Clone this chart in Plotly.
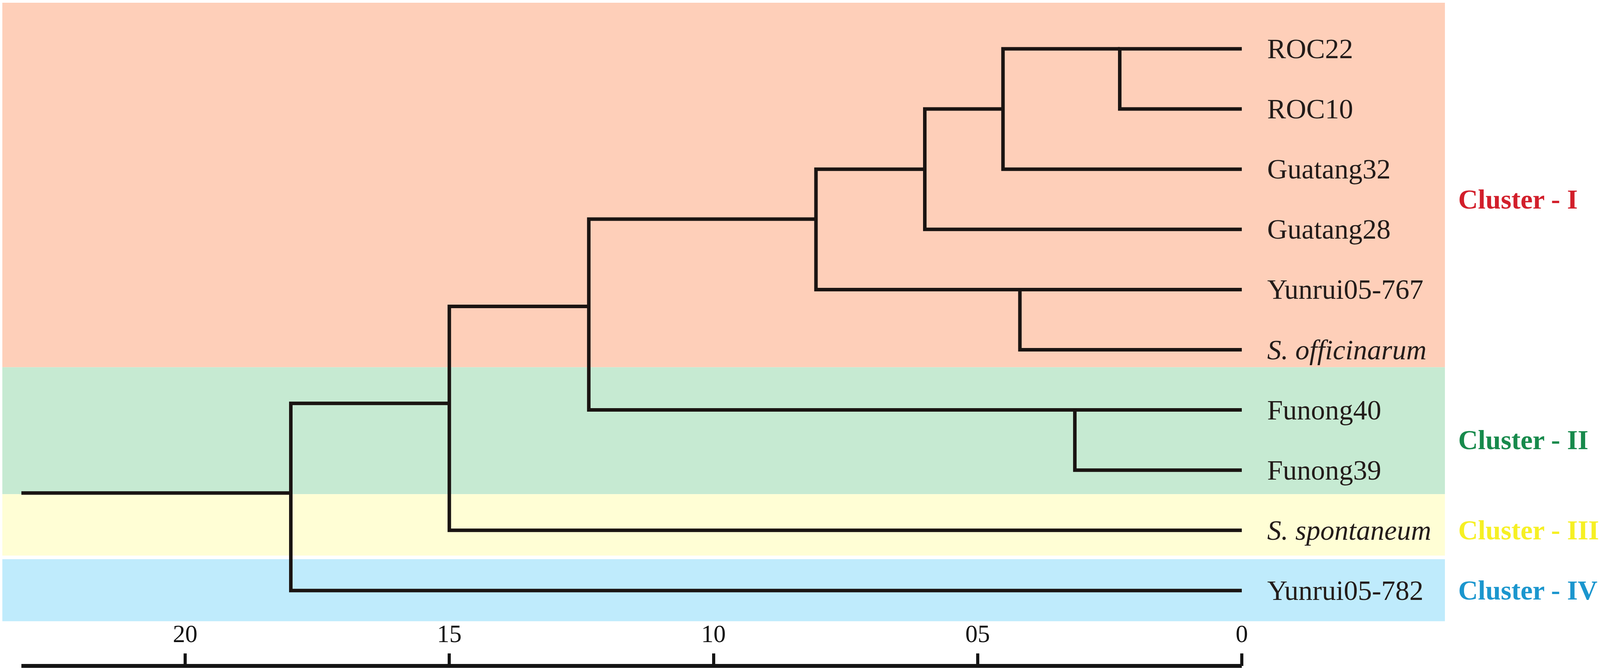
import plotly.graph_objects as go

# ---------------- data ----------------
leaves = ["ROC22", "ROC10", "Guatang32", "Guatang28", "Yunrui05-767",
          "S. officinarum", "Funong40", "Funong39", "S. spontaneum", "Yunrui05-782"]
italic_leaves = ["S. officinarum", "S. spontaneum"]

# merges: (child_a, child_b, height); children are leaf names or merge ids "m1".."m9"
merge_a = ["ROC22", "m1", "m2", "Yunrui05-767", "m3", "Funong40", "m5", "m7", "m8"]
merge_b = ["ROC10", "Guatang32", "Guatang28", "S. officinarum", "m4", "Funong39", "m6",
           "S. spontaneum", "Yunrui05-782"]
merge_h = [2.31, 4.52, 6.00, 4.20, 8.06, 3.16, 12.36, 15.0, 18.0]
# row (in leaf units) at which each merged cluster continues to its parent
merge_row = [0.0, 1.0, 2.0, 4.0, 2.83, 6.0, 4.28, 5.89, 7.38]
root_stem_end = 23.1

tick_vals = [20, 15, 10, 5, 0]
tick_text = ["20", "15", "10", "05", "0"]

cluster_names = ["Cluster - I", "Cluster - II", "Cluster - III", "Cluster - IV"]
cluster_members = [leaves[0:6], leaves[6:8], leaves[8:9], leaves[9:10]]
cluster_text_colors = ["#D21F2B", "#178A4C", "#F6F024", "#1B96CE"]
cluster_band_colors = ["#FECFB9", "#C6EAD2", "#FFFED5", "#BFEBFC"]
# band edges in leaf-row units (top, bottom)
cluster_band_top = [-0.765, 5.29, 7.40, 8.48]
cluster_band_bottom = [5.29, 7.40, 8.42, 9.51]

# ---------------- layout of tree ----------------
W, H = 4119, 1718
PX_PER_UNIT = 135.25
X0_PX = 3179
ROW0_PX, ROW_PX = 125, 154.1

leaf_y = {name: i for i, name in enumerate(leaves)}
node_y = dict(leaf_y)
node_h = {name: 0.0 for name in leaves}

xs, ys = [], []
for k, (a, b, h, row) in enumerate(zip(merge_a, merge_b, merge_h, merge_row), start=1):
    ya, yb = node_y[a], node_y[b]
    xs += [node_h[a], h, h, node_h[b], None]
    ys += [ya, ya, yb, yb, None]
    mid = "m%d" % k
    node_y[mid] = row
    node_h[mid] = h

root = "m%d" % len(merge_h)
xs += [node_h[root], root_stem_end, None]
ys += [node_y[root], node_y[root], None]

fig = go.Figure()
fig.add_trace(go.Scatter(x=xs, y=ys, mode="lines",
                         line=dict(color="#1a1412", width=9),
                         hoverinfo="skip", showlegend=False))

# bands
for top, bot, col in zip(cluster_band_top, cluster_band_bottom, cluster_band_colors):
    fig.add_shape(type="rect", xref="paper", yref="y",
                  x0=6 / W, x1=3699 / W, y0=top, y1=bot,
                  fillcolor=col, line=dict(width=0), layer="below")

# leaf labels
for name in leaves:
    txt = "<i>%s</i>" % name if name in italic_leaves else name
    fig.add_annotation(x=0, y=leaf_y[name], xref="x", yref="y", text=txt,
                       showarrow=False, xanchor="left", yanchor="middle", xshift=63,
                       font=dict(family="Liberation Serif", size=72, color="#231c1a"))

# cluster labels
for cname, members, col in zip(cluster_names, cluster_members, cluster_text_colors):
    yc = sum(leaf_y[m] for m in members) / len(members)
    fig.add_annotation(x=3731 / W, y=yc, xref="paper", yref="y",
                       text="<b>%s</b>" % cname, showarrow=False,
                       xanchor="left", yanchor="middle",
                       font=dict(family="Liberation Serif", size=70, color=col))

axis_y_paper = 1 - 1705 / H
# scale axis line
fig.add_shape(type="line", xref="x", yref="paper", x0=root_stem_end, x1=0,
              y0=axis_y_paper, y1=axis_y_paper, line=dict(color="#141414", width=10))

x_left = X0_PX / PX_PER_UNIT
x_right = (X0_PX - W) / PX_PER_UNIT
y_bottom = (H - ROW0_PX) / ROW_PX
y_top = -ROW0_PX / ROW_PX

fig.update_layout(
    width=W, height=H, autosize=False,
    margin=dict(l=0, r=0, t=0, b=0, pad=0),
    paper_bgcolor="white", plot_bgcolor="white",
    showlegend=False,
    xaxis=dict(range=[x_left, x_right], showgrid=False, zeroline=False, showline=False,
               side="top", anchor="free", position=axis_y_paper,
               tickmode="array", tickvals=tick_vals, ticktext=tick_text,
               ticks="outside", ticklen=32, tickwidth=8, tickcolor="#141414",
               tickfont=dict(family="Liberation Serif", size=63, color="#111111"),
               ticklabelstandoff=4),
    yaxis=dict(range=[y_bottom, y_top], visible=False, showgrid=False, zeroline=False),
)

fig.write_html("out.html", config={"displayModeBar": False},
               post_script="document.body.style.margin='0';document.body.style.overflow='hidden';")
